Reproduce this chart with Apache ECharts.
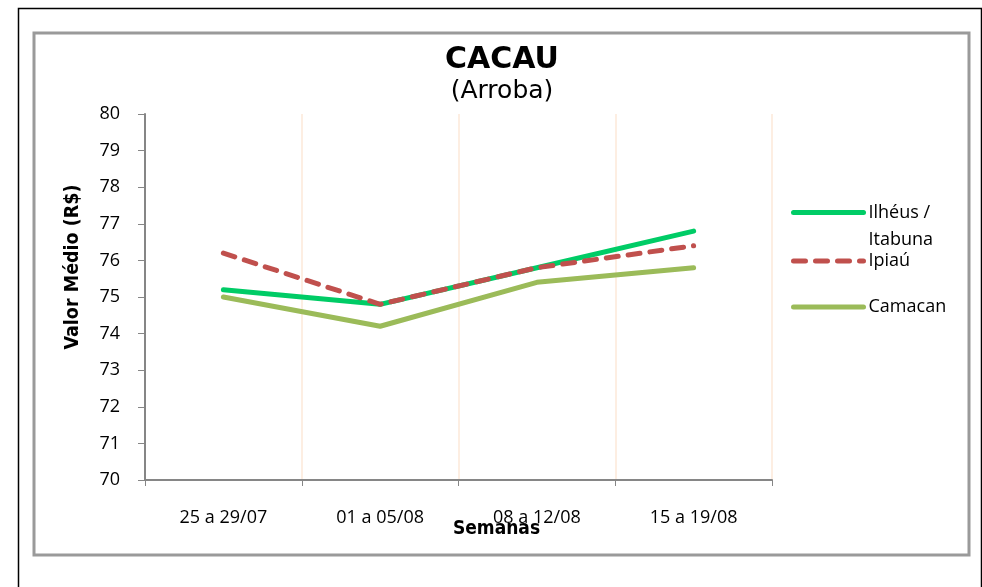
<!DOCTYPE html>
<html>
<head>
<meta charset="utf-8">
<script src="https://cdn.jsdelivr.net/npm/echarts@6/dist/echarts.min.js"></script>
<style>
  html, body { margin: 0; padding: 0; background: #fff; }
  #main { width: 982px; height: 587px; }
</style>
</head>
<body>
<div id="main"></div>
<script>
// semanas (eixo x)
var semanas = ['25 a 29/07', '01 a 05/08', '08 a 12/08', '15 a 19/08'];
// valores médios por praça (R$/arroba)
var ilheus = [75.2, 74.8, 75.8, 76.8];
var ipiau = [76.2, 74.8, 75.8, 76.4];
var camacan = [75.0, 74.2, 75.4, 75.8];
var nomes = ['Ilhéus / Itabuna', 'Ipiaú', 'Camacan'];

var chart = echarts.init(document.getElementById('main'), null, { renderer: 'canvas' });

var tickFont = '"Open Sans", "Noto Sans", sans-serif';

function legendo(name, top, extra) {
    var l = {
        data: [name],
        left: 791,
        top: top,
        padding: 0,
        itemWidth: 70,
        itemHeight: 14,
        itemGap: 0,
        itemStyle: { opacity: 0 },
        lineStyle: { width: 5, cap: 'round' },
        textStyle: { fontFamily: tickFont, fontSize: 18, color: '#000' }
    };
    if (extra) {
        // primeira linha alinhada com o traço, como no original
        l.formatter = function () { return '\nIlhéus /\nItabuna'; };
        l.textStyle.lineHeight = 27;
    }
    return l;
}

var option = {
    backgroundColor: '#fff',
    animation: false,
    title: {
        text: 'CACAU',
        subtext: '(Arroba)',
        left: 497,
        top: 40,
        textAlign: 'center',
        itemGap: 4,
        textStyle: { fontFamily: 'DejaVu Sans, sans-serif', fontWeight: 'bold', fontSize: 30, color: '#000' },
        subtextStyle: { fontFamily: 'DejaVu Sans, sans-serif', fontSize: 25, color: '#000' }
    },
    legend: [
        legendo(nomes[0], 172, true),
        legendo(nomes[1], 252),
        legendo(nomes[2], 298)
    ],
    grid: { left: 145, right: 210, top: 114, bottom: 107, containLabel: false },
    xAxis: {
        type: 'category',
        data: semanas,
        boundaryGap: true,
        name: 'Semanas',
        nameLocation: 'middle',
        nameGap: 40,
        nameMoveOverlap: false,
        nameTextStyle: {
            fontFamily: 'DejaVu Sans Condensed, sans-serif', fontWeight: 'bold', fontSize: 19, color: '#000',
            padding: [0, 0, 0, 76]
        },
        axisLine: { lineStyle: { color: '#868686', width: 2 } },
        axisTick: { show: true, length: 6, lineStyle: { color: '#868686', width: 1 } },
        axisLabel: { fontFamily: tickFont, fontSize: 18, color: '#000', margin: 29 },
        splitLine: { show: true, lineStyle: { color: '#FCE8D8', width: 1.5 } }
    },
    yAxis: {
        type: 'value',
        min: 70,
        max: 80,
        interval: 1,
        name: 'Valor Médio (R$)',
        nameLocation: 'middle',
        nameRotate: 90,
        nameGap: 62,
        nameMoveOverlap: false,
        nameTextStyle: {
            fontFamily: 'DejaVu Sans Condensed, sans-serif', fontWeight: 'bold', fontSize: 19.5, color: '#000',
            padding: [0, 0, 0, 60]
        },
        axisLine: { show: true, lineStyle: { color: '#868686', width: 2 } },
        axisTick: { show: true, length: 7, lineStyle: { color: '#868686', width: 1 } },
        axisLabel: { fontFamily: tickFont, fontSize: 18, color: '#000', margin: 25 },
        splitLine: { show: false }
    },
    series: [{
        name: nomes[0],
        type: 'line',
        data: ilheus,
        symbol: 'none',
        lineStyle: { color: '#00CC66', width: 5, cap: 'round' },
        itemStyle: { color: '#00CC66' },
        z: 3
    }, {
        name: nomes[1],
        type: 'line',
        data: ipiau,
        symbol: 'none',
        lineStyle: { color: '#C0504D', width: 5, type: [12, 10], cap: 'round' },
        itemStyle: { color: '#C0504D' },
        z: 4
    }, {
        name: nomes[2],
        type: 'line',
        data: camacan,
        symbol: 'none',
        lineStyle: { color: '#9BBB59', width: 5, cap: 'round' },
        itemStyle: { color: '#9BBB59' },
        z: 2
    }],
    graphic: [{
        type: 'rect',
        shape: { x: 18.5, y: 8.5, width: 963, height: 600 },
        style: { fill: 'none', stroke: '#000', lineWidth: 1.5 },
        silent: true
    }, {
        type: 'rect',
        shape: { x: 34, y: 33, width: 935, height: 522 },
        style: { fill: 'none', stroke: '#9a9a9a', lineWidth: 3 },
        silent: true
    }]
};

chart.setOption(option);
</script>
</body>
</html>
